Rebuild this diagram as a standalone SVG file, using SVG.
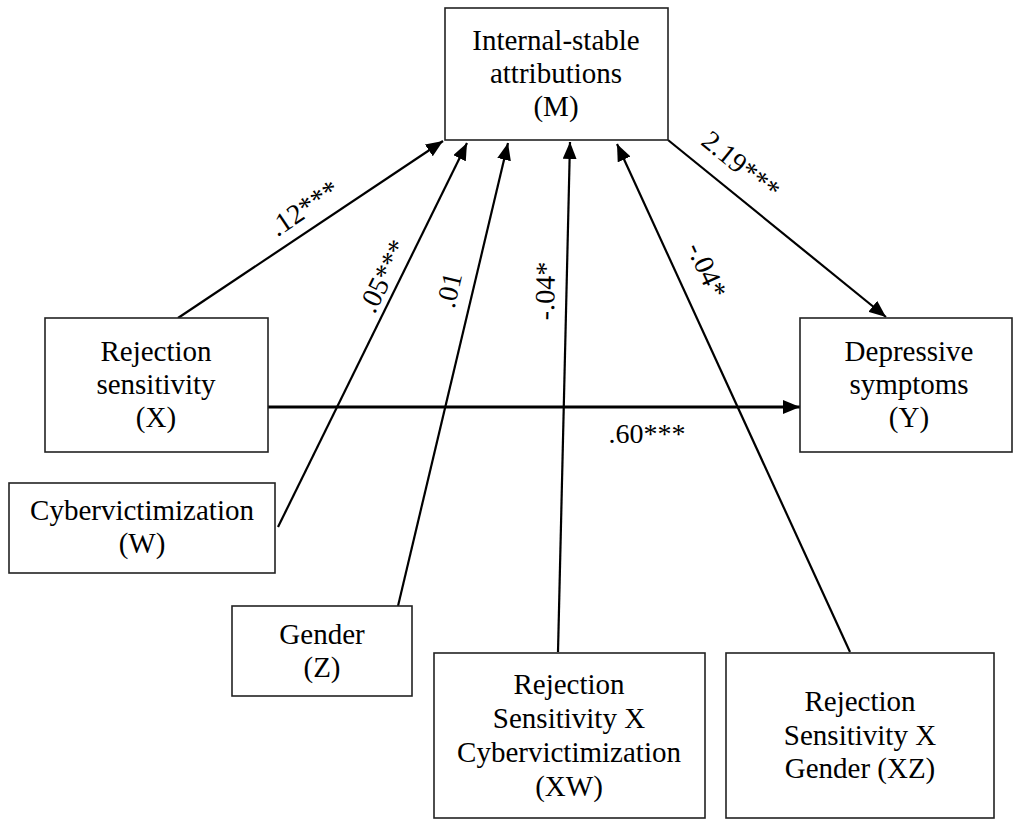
<svg xmlns="http://www.w3.org/2000/svg" width="1013" height="819" viewBox="0 0 1013 819">
<style>
.box{fill:#fff;stroke:#222;stroke-width:1.6}
text{font-family:'Liberation Serif','Times New Roman','DejaVu Serif',serif;fill:#000;text-anchor:middle}
.t{font-size:29px}
.lb{font-size:28px;dominant-baseline:central}
.ar{stroke:#000;stroke-width:2.2;fill:none;marker-end:url(#ah)}
</style>
<defs>
<marker id="ah" markerUnits="userSpaceOnUse" markerWidth="18" markerHeight="14" refX="17" refY="7" orient="auto">
<path d="M0,0 L17,7 L0,14 z" fill="#000"/>
</marker>
</defs>
<rect width="1013" height="819" fill="#fff"/>
<g id="connectors">
<line class="ar" x1="178" y1="318" x2="443" y2="141"/>
<line class="ar" x1="278" y1="527" x2="467" y2="143"/>
<line class="ar" x1="398" y1="606" x2="508" y2="143"/>
<line class="ar" x1="558" y1="652" x2="570" y2="142"/>
<line class="ar" x1="850" y1="652" x2="617" y2="144"/>
<line class="ar" x1="668" y1="140" x2="886" y2="317"/>
<line class="ar" x1="268" y1="407" x2="800" y2="407" style="stroke-width:2.8"/>
</g>
<g id="labels">
<text class="lb" x="304" y="208" transform="rotate(-33.7 304 208)">.12***</text>
<text class="lb" x="383" y="276" transform="rotate(-63.7 383 276)">.05***</text>
<text class="lb" x="449" y="290" transform="rotate(-76.6 449 290)">.01</text>
<text class="lb" x="545" y="291" transform="rotate(-88.7 545 291)">-.04*</text>
<text class="lb" x="707" y="270" transform="rotate(65.4 707 270)">-.04*</text>
<text class="lb" x="741" y="165" transform="rotate(39 741 165)">2.19***</text>
<text class="lb" x="647" y="433">.60***</text>
</g>
<g id="node-M">
<rect class="box" x="445" y="8" width="223" height="132"/>
<text class="t" x="556" y="50">Internal-stable</text>
<text class="t" x="556" y="83">attributions</text>
<text class="t" x="556" y="116">(M)</text>
</g>
<g id="node-X">
<rect class="box" x="45" y="318" width="223" height="134"/>
<text class="t" x="156" y="361">Rejection</text>
<text class="t" x="156" y="394">sensitivity</text>
<text class="t" x="156" y="427">(X)</text>
</g>
<g id="node-Y">
<rect class="box" x="800" y="318" width="212" height="134"/>
<text class="t" x="909" y="361">Depressive</text>
<text class="t" x="909" y="394">symptoms</text>
<text class="t" x="909" y="427">(Y)</text>
</g>
<g id="node-W">
<rect class="box" x="9" y="483" width="266" height="90"/>
<text class="t" x="142" y="520">Cybervictimization</text>
<text class="t" x="142" y="553">(W)</text>
</g>
<g id="node-Z">
<rect class="box" x="232" y="606" width="180" height="90"/>
<text class="t" x="322" y="644">Gender</text>
<text class="t" x="322" y="677">(Z)</text>
</g>
<g id="node-XW">
<rect class="box" x="434" y="653" width="271" height="165"/>
<text class="t" x="569" y="694">Rejection</text>
<text class="t" x="569" y="728">Sensitivity X</text>
<text class="t" x="569" y="762">Cybervictimization</text>
<text class="t" x="569" y="796">(XW)</text>
</g>
<g id="node-XZ">
<rect class="box" x="726" y="653" width="268" height="165"/>
<text class="t" x="860" y="711">Rejection</text>
<text class="t" x="860" y="745">Sensitivity X</text>
<text class="t" x="860" y="778">Gender (XZ)</text>
</g>
</svg>
